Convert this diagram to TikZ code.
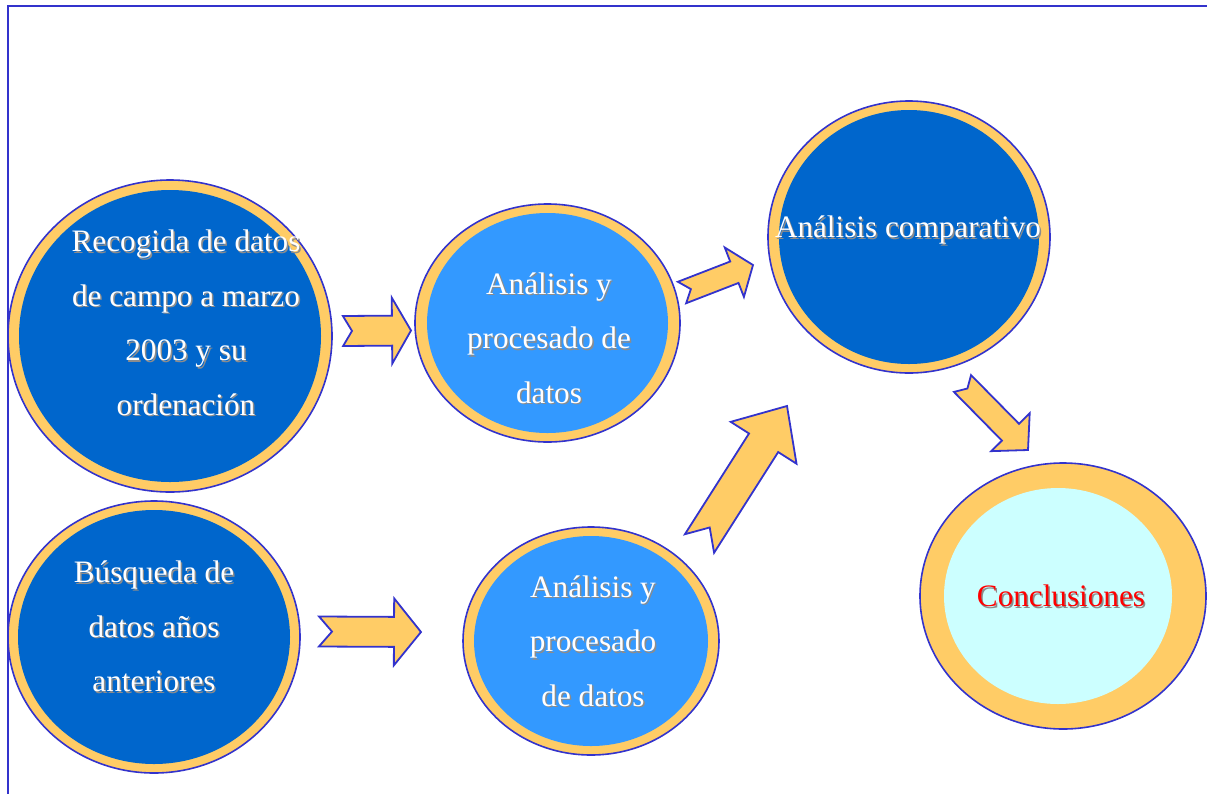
\documentclass[tikz,border=0pt]{standalone}
\usepackage{fontspec}
\setmainfont{Liberation Serif}
\usetikzlibrary{shapes.geometric,calc}

\definecolor{deepblue}{HTML}{0066CC}
\definecolor{skyblue}{HTML}{3399FF}
\definecolor{ringgold}{HTML}{FFCC66}
\definecolor{edgeblue}{HTML}{3333CC}
\definecolor{palecyan}{HTML}{CCFFFF}
\definecolor{shadowgray}{HTML}{8C8C8C}

% text with a soft grey drop shadow
\newcommand\shtext[1]{\strut\makebox[0pt][l]{\kern1.5pt\raisebox{-1.5pt}{\textcolor{shadowgray}{#1}}}#1}

% block arrow: #1 tail centre, #2 tip, #3 shaft half-width,
% #4 head half-width, #5 head length, #6 tail notch depth
\newcommand\blockarrow[6]{%
  \coordinate (ba-h) at ($(#2)!#5pt!(#1)$);
  \coordinate (ba-n) at ($(#1)!#6pt!(#2)$);
  \draw[arrowbody]
    ($(#1)!#3pt!90:(#2)$) -- ($(ba-h)!#3pt!-90:(#1)$) --
    ($(ba-h)!#4pt!-90:(#1)$) -- (#2) --
    ($(ba-h)!#4pt!90:(#1)$) -- ($(ba-h)!#3pt!90:(#1)$) --
    ($(#1)!#3pt!-90:(#2)$) -- (ba-n) -- cycle;
}

\begin{document}
\begin{tikzpicture}[x=1pt,y=-1pt,
  ringnode/.style={ellipse, draw=edgeblue, line width=1.6pt, fill=ringgold, inner sep=0pt},
  arrowbody/.style={fill=ringgold, draw=edgeblue, line width=1.8pt, line join=miter},
  captext/.style={text=white, font=\fontsize{31.2}{54.5}\selectfont, align=center, inner sep=0pt},
  frameline/.style={draw=edgeblue, line width=2.5pt}]

\useasboundingbox (0,0) rectangle (1207,793);

% page frame
\draw[frameline] (8,800) -- (8,6) -- (1210,6);

% stages
\node[ringnode, minimum width=324pt, minimum height=312pt] (c1) at (170,336) {};
\fill[deepblue] (c1.center) ellipse (151 and 146);
\node[ringnode, minimum width=292pt, minimum height=272pt] (c2) at (154,637) {};
\fill[deepblue] (c2.center) ellipse (136 and 127);
\node[ringnode, minimum width=265pt, minimum height=238pt] (c3) at (547.5,323) {};
\fill[skyblue] (c3.center) ellipse (120.5 and 110);
\node[ringnode, minimum width=256pt, minimum height=228pt] (c4) at (591,641) {};
\fill[skyblue] (c4.center) ellipse (117 and 105);
\node[ringnode, minimum width=282pt, minimum height=272pt] (c5) at (909,237) {};
\fill[deepblue] (c5.center) ellipse (130 and 127);
\node[ringnode, minimum width=286pt, minimum height=266pt] (c6) at (1063,596) {};
\fill[palecyan] ($(c6.center)+(-5,0)$) ellipse (114 and 108);

% arrow end points
\coordinate (a1s) at (343,331);    \coordinate (a1e) at (411,330.5);
\coordinate (a2s) at (319,631.5);  \coordinate (a2e) at (421,632);
\coordinate (a3s) at (682,292.5);  \coordinate (a3e) at (753,265);
\coordinate (a4s) at (699.5,543.5);\coordinate (a4e) at (787,406);
\coordinate (a5s) at (962.5,383.5);\coordinate (a5e) at (1028,450);

\blockarrow{a1s}{a1e}{15}{33}{19}{9}
\blockarrow{a2s}{a2e}{15}{33.5}{27}{13}
\blockarrow{a3s}{a3e}{11.5}{26.5}{20}{9.5}
\blockarrow{a4s}{a4e}{17.3}{39}{43.6}{19}
\blockarrow{a5s}{a5e}{12}{27}{25}{7}

% captions
\node[captext] (t1) at (186,322.6) {\shtext{Recogida de datos}\\\shtext{de campo a marzo}\\\shtext{2003 y su}\\\shtext{ordenación}};
\node[captext] (t2) at (154,626.1) {\shtext{Búsqueda de}\\\shtext{datos años}\\\shtext{anteriores}};
\node[captext] (t3) at (549,337.6) {\shtext{Análisis y}\\\shtext{procesado de}\\\shtext{datos}};
\node[captext] (t4) at (593,640.6) {\shtext{Análisis y}\\\shtext{procesado}\\\shtext{de datos}};
\node[captext] (t5) at (908,227) {\shtext{Análisis comparativo}};
\node[captext, text=red] (t6) at (1061,595.8) {\shtext{Conclusiones}};

\end{tikzpicture}
\end{document}
